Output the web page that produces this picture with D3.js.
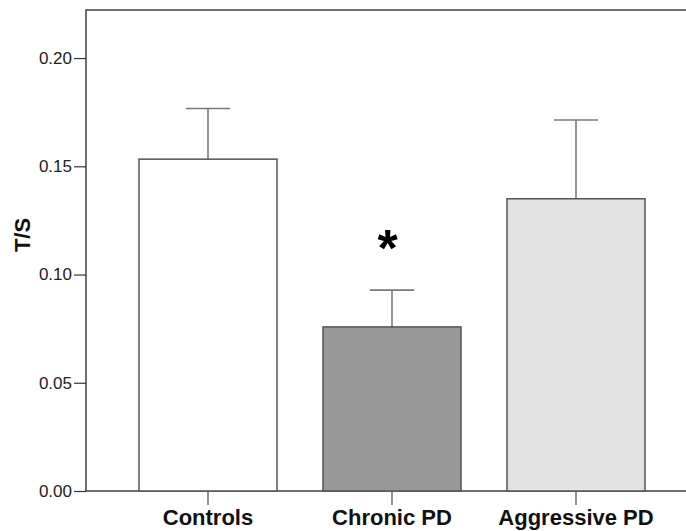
<!DOCTYPE html>
<html>
<head>
<meta charset="utf-8">
<script src="https://cdn.jsdelivr.net/npm/d3@7"></script>
<style>
  html, body { margin: 0; padding: 0; background: #fff; }
  svg { display: block; }
</style>
</head>
<body>
<svg id="chart" width="686" height="531"></svg>
<script>
// Group means and upper error limits of the T/S ratio
const groups = ["Controls", "Chronic PD", "Aggressive PD"];
const means = [0.1533, 0.0758, 0.1350];
const upperErr = [0.1767, 0.0928, 0.1714];
const fills = ["#ffffff", "#999999", "#e3e3e3"];
const yTicks = [0.00, 0.05, 0.10, 0.15, 0.20];
const significant = [false, true, false];

const svg = d3.select("#chart");
const frame = { left: 86, top: 10, bottom: 491, right: 720 };

const y = d3.scaleLinear().domain([0, 0.2222]).range([frame.bottom, frame.top]);
const x = d3.scaleBand().domain(groups).range([116, 668])
  .paddingInner(0.25).paddingOuter(0.125);

const data = groups.map((g, i) => ({ g, m: means[i], e: upperErr[i], fill: fills[i], sig: significant[i] }));

// plot frame
svg.append("rect")
  .attr("x", frame.left).attr("y", frame.top)
  .attr("width", frame.right - frame.left).attr("height", frame.bottom - frame.top)
  .attr("fill", "none").attr("stroke", "#333").attr("stroke-width", 1.4);

// error bars (drawn first so the bar outline sits on top)
const eb = svg.append("g");
data.forEach(d => {
  const cx = x(d.g) + x.bandwidth() / 2;
  const cap = x.bandwidth() * 0.16;
  eb.append("line").attr("x1", cx).attr("x2", cx)
    .attr("y1", y(d.m)).attr("y2", y(d.e))
    .attr("stroke", "#7a7a7a").attr("stroke-width", 1.6);
  eb.append("line").attr("x1", cx - cap).attr("x2", cx + cap)
    .attr("y1", y(d.e)).attr("y2", y(d.e))
    .attr("stroke", "#7a7a7a").attr("stroke-width", 1.6);
});

// bars
svg.append("g").selectAll("rect").data(data).join("rect")
  .attr("x", d => x(d.g))
  .attr("y", d => y(d.m))
  .attr("width", x.bandwidth())
  .attr("height", d => y(0) - y(d.m))
  .attr("fill", d => d.fill)
  .attr("stroke", "#555").attr("stroke-width", 1.5);

// significance marker
svg.append("g").selectAll("text").data(data.filter(d => d.sig)).join("text")
  .attr("x", d => x(d.g) + x.bandwidth() / 2 - 4.5)
  .attr("y", d => y(d.e) - 24)
  .attr("text-anchor", "middle")
  .attr("font-family", "Liberation Sans, Arial, sans-serif")
  .attr("font-weight", "bold")
  .attr("font-size", 52)
  .attr("fill", "#000")
  .text("*");

// y axis
const yAxis = d3.axisLeft(y).tickValues(yTicks).tickFormat(d3.format(".2f"))
  .tickSize(12).tickPadding(2);
const ya = svg.append("g").attr("transform", `translate(${frame.left},0)`).call(yAxis);
ya.select(".domain").remove();
ya.selectAll(".tick line").attr("stroke", "#333").attr("stroke-width", 1.2);
ya.selectAll(".tick text")
  .attr("font-family", "Liberation Sans, Arial, sans-serif")
  .attr("font-size", 17).attr("fill", "#222");

// x axis
const xAxis = d3.axisBottom(x).tickSize(14).tickPadding(4);
const xa = svg.append("g").attr("transform", `translate(0,${frame.bottom})`).call(xAxis);
xa.select(".domain").remove();
xa.selectAll(".tick line").attr("stroke", "#666").attr("stroke-width", 1.4);
xa.selectAll(".tick text")
  .attr("font-family", "Liberation Sans, Arial, sans-serif")
  .attr("font-weight", "bold")
  .attr("font-size", 22).attr("fill", "#111");

// y axis title
svg.append("text")
  .attr("transform", `translate(30,235) rotate(-90)`)
  .attr("text-anchor", "middle")
  .attr("font-family", "Liberation Sans, Arial, sans-serif")
  .attr("font-weight", "bold")
  .attr("font-size", 22).attr("fill", "#111")
  .text("T/S");
</script>
</body>
</html>
